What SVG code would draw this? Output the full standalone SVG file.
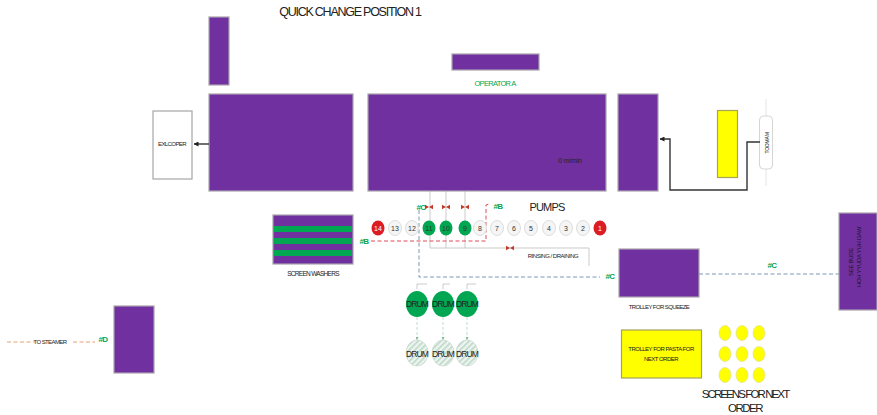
<svg xmlns="http://www.w3.org/2000/svg" width="877" height="415" viewBox="0 0 877 415">
<style>
text{font-family:"Liberation Sans",Arial,sans-serif;text-anchor:middle;fill:#222}
.p{fill:#7030a0;stroke:#a8a2ad;stroke-width:1.2}
.y{fill:#ffff00;stroke:#a3a35a;stroke-width:1.2}
.w{fill:#fff;stroke:#a6a6a6;stroke-width:1.2}
.g{fill:#00a651;font-size:8px;letter-spacing:-.6px;font-weight:bold}
.s{font-size:6.5px;letter-spacing:-.7px}
.n{font-size:7px;fill:#333}
.pw{fill:#f5f5f5;stroke:#ddd;stroke-width:1}
.pg{fill:#00a651}
.pr{fill:#dc1c24}
.dg{fill:#00a651}
.dh{fill:url(#h);stroke:#c9d6cf;stroke-width:.7}
.d{font-size:8.5px;letter-spacing:-.9px}
.thin{fill:none;stroke:#b5b5b5;stroke-width:.7}
.blk{fill:none;stroke:#333;stroke-width:1.4}
.blue{fill:none;stroke:#7d96b4;stroke-width:1;stroke-dasharray:4 2.5}
.red{fill:none;stroke:#dd4b58;stroke-width:1;stroke-dasharray:4 2.5}
.or{fill:none;stroke:#e8a070;stroke-width:1;stroke-dasharray:4 2.5}
.v{fill:#c0392b}
.dr{fill:none;stroke:#b4d4c0;stroke-width:.8;stroke-dasharray:3 2}
</style>
<defs>
<pattern id="h" width="4" height="4" patternUnits="userSpaceOnUse" patternTransform="rotate(45)"><rect width="4" height="4" fill="#eef4f0"/><rect width="1.6" height="4" fill="#bcd8c8"/></pattern>
<marker id="a" markerUnits="userSpaceOnUse" markerWidth="5" markerHeight="5" refX="4.500" refY="2.500" orient="auto"><path d="M0 0L5 2.500L0 5z" fill="#222"/></marker>
<marker id="ag" markerUnits="userSpaceOnUse" markerWidth="3" markerHeight="3" refX="3" refY="1.500" orient="auto"><path d="M0 0L3 1.500L0 3z" fill="#7fb896"/></marker>
<path id="valve" d="M-4 -2.200L0 0L-4 2.200zM4 -2.200L0 0L4 2.200z"/>
</defs>
<rect width="877" height="415" fill="#fff"/>
<text x="350" y="16" font-size="12.500" letter-spacing="-1.250">QUICK CHANGE POSITION 1</text>

<g id="conveyor-top"><rect class="p" x="209" y="17" width="20" height="68"/></g>
<g id="line-a"><rect class="p" x="209" y="94" width="144" height="97"/></g>
<g id="line-b"><rect class="p" x="368" y="94" width="238" height="97"/><text x="570" y="163" font-size="7" letter-spacing="-.2">0 m/min</text></g>
<g id="line-c"><rect class="p" x="618" y="94" width="40" height="97"/></g>
<g id="operator"><rect class="p" x="452" y="54" width="87" height="16"/><text class="g" x="495" y="86" style="font-size:7.500px;font-weight:normal;letter-spacing:-.7px">OPERATOR A</text></g>
<g id="extruder"><rect class="w" x="153" y="111" width="39" height="68"/><text x="172" y="146" font-size="6" letter-spacing="-.6">EXLCOPER</text></g>
<g id="yellow-bar"><rect class="y" x="717.500" y="110.500" width="20" height="67"/></g>
<g id="pill"><path d="M766 99V116M766 168V186" stroke="#ddd" stroke-width=".8"/><rect x="759.500" y="116" width="13" height="53" rx="4" fill="#fff" stroke="#d5d5d5"/><text transform="translate(769,143) rotate(-90)" font-size="5" letter-spacing="-.2">TOOMAM</text></g>
<g id="screen-washers"><rect class="p" x="273" y="215" width="80" height="49"/><path fill="#00a651" d="M274 226h78v6h-78zM274 238h78v6h-78zM274 250h78v6h-78z"/><text class="s" x="313" y="276">SCREEN WASHERS</text></g>
<g id="steamer-box"><rect class="p" x="114" y="306" width="40" height="67"/></g>
<g id="trolley-squeeze"><rect class="p" x="619" y="249" width="80" height="48"/><text x="659" y="309" font-size="6" letter-spacing="-.6">TROLLEY FOR SQUEEZE</text></g>
<g id="trolley-pasta"><rect class="y" x="621.500" y="330" width="80" height="48"/><text x="661" y="351" font-size="6" letter-spacing="-.5">TROLLEY FOR PASTA FOR</text><text x="661" y="361" font-size="6" letter-spacing="-.5">NEXT ORDER</text></g>
<g id="right-box"><rect class="p" x="839" y="213" width="38" height="97"/><g font-size="6" letter-spacing="-.3" style="fill:#1b1030"><text transform="translate(853,262) rotate(-90)" style="fill:#1b1030">SEE BUDE</text><text transform="translate(861,257) rotate(-90)" style="fill:#1b1030">HOH YYUDA YUH I3AW</text></g></g>
<g id="screens"><g fill="#ffff00" stroke="#d8d8a0" stroke-width=".6"><ellipse cx="725" cy="333" rx="6" ry="7.500"/><ellipse cx="742" cy="333" rx="6" ry="7.500"/><ellipse cx="759" cy="333" rx="6" ry="7.500"/><ellipse cx="725" cy="354" rx="6" ry="7.500"/><ellipse cx="742" cy="354" rx="6" ry="7.500"/><ellipse cx="759" cy="354" rx="6" ry="7.500"/><ellipse cx="725" cy="375" rx="6" ry="7.500"/><ellipse cx="742" cy="375" rx="6" ry="7.500"/><ellipse cx="759" cy="375" rx="6" ry="7.500"/></g><text x="745" y="398" font-size="11.500" letter-spacing="-1.900">SCREENS FOR NEXT</text><text x="745" y="412" font-size="11.500" letter-spacing="-1.500">ORDER</text></g>

<g id="connectors">
<path class="blk" marker-end="url(#a)" d="M209 144H194"/>
<path class="blk" marker-end="url(#a)" d="M760 142H747V190H670V139H660"/>
<path class="thin" d="M430 191V248M446 191V248M465 191V248M430 248H589V266"/>
<path class="red" d="M371 241H486V205L489 204"/>
<path class="blue" d="M419 210V277H600"/>
<path class="blue" d="M699 274H839"/>
<path class="or" d="M7 342H35M73 342H95"/>
<path class="thin" d="M417 289V284H427M443 289V284H450M467 289V284H476"/>
<path class="dr" marker-end="url(#ag)" d="M417 317V340"/>
<path class="dr" marker-end="url(#ag)" d="M443 317V340"/>
<path class="dr" marker-end="url(#ag)" d="M467 317V340"/>
<g class="v"><use href="#valve" x="429" y="207"/><use href="#valve" x="446" y="207"/><use href="#valve" x="465" y="207"/><use href="#valve" x="510" y="248"/></g>
</g>

<g id="pumps">
<ellipse class="pr" cx="378" cy="228" rx="6.500" ry="7.500"/><text class="n" x="378" y="231" style="fill:#fff">14</text>
<ellipse class="pw" cx="395" cy="228" rx="6.500" ry="7.500"/><text class="n" x="395" y="231">13</text>
<ellipse class="pw" cx="412" cy="228" rx="6.500" ry="7.500"/><text class="n" x="412" y="231">12</text>
<ellipse class="pg" cx="429" cy="228" rx="6.500" ry="7.500"/><text class="n" x="429" y="231">11</text>
<ellipse class="pg" cx="446" cy="228" rx="6.500" ry="7.500"/><text class="n" x="446" y="231">10</text>
<ellipse class="pg" cx="465" cy="228" rx="6.500" ry="7.500"/><text class="n" x="465" y="231">9</text>
<ellipse class="pw" cx="480" cy="228" rx="6.500" ry="7.500"/><text class="n" x="480" y="231">8</text>
<ellipse class="pw" cx="497" cy="228" rx="6.500" ry="7.500"/><text class="n" x="497" y="231">7</text>
<ellipse class="pw" cx="514" cy="228" rx="6.500" ry="7.500"/><text class="n" x="514" y="231">6</text>
<ellipse class="pw" cx="531" cy="228" rx="6.500" ry="7.500"/><text class="n" x="531" y="231">5</text>
<ellipse class="pw" cx="549" cy="228" rx="6.500" ry="7.500"/><text class="n" x="549" y="231">4</text>
<ellipse class="pw" cx="566" cy="228" rx="6.500" ry="7.500"/><text class="n" x="566" y="231">3</text>
<ellipse class="pw" cx="583" cy="228" rx="6.500" ry="7.500"/><text class="n" x="583" y="231">2</text>
<ellipse class="pr" cx="600" cy="228" rx="6.500" ry="7.500"/><text class="n" x="600" y="231" style="fill:#fff">1</text>
</g>
<g id="drums">
<ellipse class="dg" cx="417" cy="304" rx="11" ry="13"/><text class="d" x="417" y="307">DRUM</text>
<ellipse class="dg" cx="443" cy="304" rx="11" ry="13"/><text class="d" x="443" y="307">DRUM</text>
<ellipse class="dg" cx="467" cy="304" rx="11" ry="13"/><text class="d" x="467" y="307">DRUM</text>
<ellipse class="dh" cx="417" cy="353" rx="11" ry="13"/><text class="d" x="417" y="357">DRUM</text>
<ellipse class="dh" cx="443" cy="353" rx="11" ry="13"/><text class="d" x="443" y="357">DRUM</text>
<ellipse class="dh" cx="467" cy="353" rx="11" ry="13"/><text class="d" x="467" y="357">DRUM</text>
</g>
<g id="labels">
<text x="547" y="211" font-size="11" letter-spacing="-.8">PUMPS</text>
<text x="553" y="258" font-size="6" letter-spacing="-.5">RINSING / DRAINING</text>
<text x="50" y="344" font-size="6" letter-spacing="-.6">TO STEAMER</text>
<text class="g" x="421" y="210">#C</text>
<text class="g" x="498" y="209">#B</text>
<text class="g" x="364" y="244">#B</text>
<text class="g" x="610" y="279">#C</text>
<text class="g" x="772" y="268">#C</text>
<text class="g" x="103" y="342">#D</text>
</g>
</svg>
